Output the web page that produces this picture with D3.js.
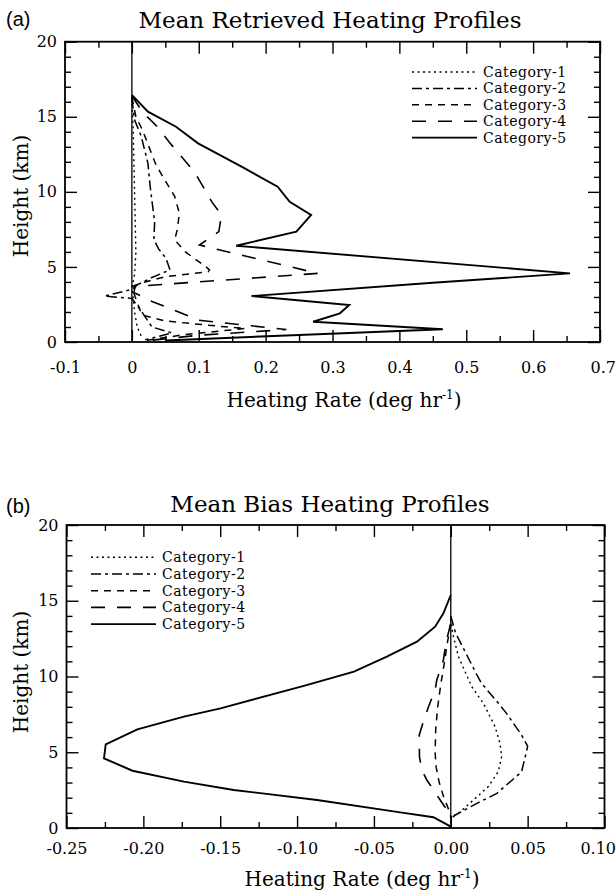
<!DOCTYPE html>
<html><head><meta charset="utf-8">
<script src="https://cdn.jsdelivr.net/npm/d3@7"></script>
<style>body{margin:0;background:#fff}</style>
</head><body>
<svg id="chart" width="616" height="896"></svg>
<script>
// ---------------- data ----------------
const categories = ["Category-1","Category-2","Category-3","Category-4","Category-5"];

// Panel (a): Mean Retrieved Heating Profiles
const retrXTicks = [-0.1,0,0.1,0.2,0.3,0.4,0.5,0.6,0.7];
const retrXTickLabels = ["-0.1","0","0.1","0.2","0.3","0.4","0.5","0.6","0.7"];
const retrXMinor = [-0.05,0.05,0.15,0.25,0.35,0.45,0.55,0.65];

const retrCat1H = [16.2,14.0,12.0,10.0,8.0,6.0,4.5,3.6,3.0,2.0,1.0,0.3];
const retrCat1  = [0.0,0.002,0.003,0.004,0.005,0.006,0.004,0.0,0.002,0.004,0.008,0.015];
const retrCat2H = [16.2,14.8,13.7,11.9,10.3,8.0,6.8,6.2,5.57,4.8,4.3,3.8,3.5,3.06,2.9,2.0,1.0,0.6,0.15];
const retrCat2  = [0.0,0.004,0.014,0.024,0.0275,0.034,0.033,0.04,0.051,0.057,0.03,0.008,0.0,-0.041,0.0,0.015,0.03,0.06,0.02];
const retrCat3H = [16.3,15.0,14.1,11.8,10.8,9.7,8.57,7.5,6.8,6.0,5.0,4.8,4.68,4.35,4.0,3.7,3.0,1.8,1.4,1.05,0.9,0.5,0.1];
const retrCat3  = [0.0,0.006,0.016,0.036,0.049,0.064,0.071,0.068,0.064,0.08,0.111,0.116,0.114,0.05,0.02,0.0,0.005,0.015,0.05,0.13,0.17,0.08,0.02];
const retrCat4H = [16.4,15.3,14.3,13.3,11.3,9.3,8.46,7.35,6.46,4.57,4.08,3.7,3.3,2.7,2.25,1.45,0.83,0.45,0.12];
const retrCat4  = [0.0,0.016,0.039,0.056,0.094,0.12,0.134,0.13,0.101,0.278,0.124,0.005,0.003,0.03,0.056,0.10,0.231,0.1,0.03];
const retrCat5H = [16.45,15.34,14.34,13.23,11.68,10.34,9.34,8.46,7.35,6.41,4.57,3.95,3.06,2.46,1.91,1.35,0.85,0.47,0.1];
const retrCat5  = [0.0,0.024,0.066,0.099,0.164,0.218,0.236,0.268,0.246,0.156,0.655,0.45,0.179,0.325,0.311,0.271,0.465,0.25,0.05];

// Panel (b): Mean Bias Heating Profiles
const biasXTicks = [-0.25,-0.20,-0.15,-0.10,-0.05,0.00,0.05,0.10];
const biasXTickLabels = ["-0.25","-0.20","-0.15","-0.10","-0.05","0.00","0.05","0.10"];
const biasXMinor = [-0.225,-0.175,-0.125,-0.075,-0.025,0.025,0.075];

const biasCat1H = [13.8,12.85,11.3,9.33,8.23,6.69,5.59,4.71,3.72,2.73,1.74,0.97,0.7];
const biasCat1  = [0.0,0.0012,0.005,0.0136,0.0212,0.0288,0.032,0.0331,0.0309,0.0244,0.0136,0.005,0.0];
const biasCat2H = [14.0,12.9,11.9,10.1,9.55,8.23,7.6,6.14,5.4,4.93,3.7,2.29,1.63,0.86,0.6];
const biasCat2  = [0.0,0.003,0.008,0.017,0.02,0.031,0.036,0.046,0.050,0.049,0.046,0.030,0.017,0.003,0.0];
const biasCat3H = [13.5,12.0,11.0,9.5,8.0,6.5,5.0,4.0,3.0,2.0,1.0,0.7];
const biasCat3  = [0.0,-0.0026,-0.004,-0.0065,-0.0085,-0.0098,-0.0102,-0.0095,-0.0075,-0.0045,-0.0005,0.0];
const biasCat4H = [13.5,12.3,11.09,9.77,9.11,8.0,7.13,6.14,5.15,4.71,3.83,3.17,1.85,0.97,0.7];
const biasCat4  = [0.0,-0.003,-0.0048,-0.0091,-0.0102,-0.0145,-0.0175,-0.0205,-0.0204,-0.0204,-0.0188,-0.0156,-0.0069,-0.001,0.0];
const biasCat5H = [15.38,14.17,13.29,12.3,11.31,10.32,9.4,7.9,7.35,6.51,5.52,4.6,3.78,3.06,2.51,1.85,1.03,0.71,0.09];
const biasCat5  = [0.0,-0.0048,-0.0102,-0.022,-0.0416,-0.063,-0.095,-0.1498,-0.1736,-0.2039,-0.2245,-0.2256,-0.2071,-0.1736,-0.1412,-0.087,-0.0329,-0.0113,0.0];

// shared height axis
const yTicks = [0,5,10,15,20];
const yTickLabels = ["0","5","10","15","20"];
const yMinor = [1,2,3,4,6,7,8,9,11,12,13,14,16,17,18,19];

// ---------------- styles ----------------
const SERIF = "'DejaVu Serif', serif";
const SANS = "'Liberation Sans', Arial, sans-serif";
const lineStyles = [
  {dash:"2,3.5", width:1.4},
  {dash:"10,4,3,4", width:1.5},
  {dash:"7,6", width:1.5},
  {dash:"14,12", width:1.6},
  {dash:null, width:1.9}
];

const svg = d3.select("#chart");

function zip(h, v){ return h.map((hh,i)=>({h:hh, v:v[i]})); }

function drawPanel(cfg){
  const x = d3.scaleLinear().domain(cfg.xDomain).range([cfg.left, cfg.right]);
  const y = d3.scaleLinear().domain([0,20]).range([cfg.bottom, cfg.top]);
  const g = svg.append("g");

  // zero line
  g.append("line").attr("x1", x(0)).attr("x2", x(0)).attr("y1", y(0)).attr("y2", y(20))
    .attr("stroke","#000").attr("stroke-width",1.3);

  // curves
  const line = d3.line().x(d=>x(d.v)).y(d=>y(d.h));
  cfg.series.forEach((s,i)=>{
    g.append("path").datum(zip(s.h, s.v)).attr("d", line)
      .attr("fill","none").attr("stroke","#000")
      .attr("stroke-width", lineStyles[i].width)
      .attr("stroke-dasharray", lineStyles[i].dash)
      .attr("stroke-linejoin","miter");
  });

  // axes
  function style(sel){
    sel.select(".domain").remove();
    sel.attr("font-family", SERIF);
    sel.selectAll("line").attr("stroke","#000").attr("stroke-width",1.4);
    sel.selectAll("text").attr("font-family", SERIF).attr("font-size", 16).attr("fill","#000");
  }
  const fmtX = d => cfg.xLabels[cfg.xTicks.indexOf(d)];
  const fmtY = d => yTickLabels[yTicks.indexOf(d)];

  const bx = g.append("g").attr("transform",`translate(0,${cfg.bottom})`)
    .call(d3.axisBottom(x).tickValues(cfg.xTicks).tickSize(-12).tickPadding(cfg.xPad).tickFormat(fmtX)).call(style);
  // keep the last label inside the page, as in the reference
  const lastTick = bx.selectAll(".tick").filter((d,i,n)=> i === n.length-1);
  const lastPos = x(cfg.xTicks[cfg.xTicks.length-1]);
  if (lastPos + 18 > 616) lastTick.select("text").attr("text-anchor","end").attr("x", 615.5 - lastPos);

  g.append("g").attr("transform",`translate(0,${cfg.bottom})`)
    .call(d3.axisBottom(x).tickValues(cfg.xMinor).tickSize(-6).tickFormat("")).call(style);
  g.append("g").attr("transform",`translate(0,${cfg.top})`)
    .call(d3.axisTop(x).tickValues(cfg.xTicks).tickSize(-12).tickFormat("")).call(style);
  g.append("g").attr("transform",`translate(0,${cfg.top})`)
    .call(d3.axisTop(x).tickValues(cfg.xMinor).tickSize(-6).tickFormat("")).call(style);
  g.append("g").attr("transform",`translate(${cfg.left},0)`)
    .call(d3.axisLeft(y).tickValues(yTicks).tickSize(-12).tickPadding(8).tickFormat(fmtY)).call(style);
  g.append("g").attr("transform",`translate(${cfg.left},0)`)
    .call(d3.axisLeft(y).tickValues(yMinor).tickSize(-6).tickFormat("")).call(style);
  g.append("g").attr("transform",`translate(${cfg.right},0)`)
    .call(d3.axisRight(y).tickValues(yTicks).tickSize(-12).tickFormat("")).call(style);
  g.append("g").attr("transform",`translate(${cfg.right},0)`)
    .call(d3.axisRight(y).tickValues(yMinor).tickSize(-6).tickFormat("")).call(style);

  // frame
  g.append("rect").attr("x",cfg.left).attr("y",cfg.top)
    .attr("width",cfg.right-cfg.left).attr("height",cfg.bottom-cfg.top)
    .attr("fill","none").attr("stroke","#000").attr("stroke-width",1.8);

  // titles
  g.append("text").attr("x",6).attr("y",cfg.tagY).text(cfg.tag)
    .attr("font-family",SANS).attr("font-size",20).attr("fill","#000");
  g.append("text").attr("x",330).attr("y",cfg.titleY).attr("text-anchor","middle")
    .attr("font-family",SERIF).attr("font-size",23).attr("fill","#000").text(cfg.title);

  // y label
  g.append("text").attr("transform",`translate(28,${cfg.yLabelY}) rotate(-90)`)
    .attr("text-anchor","middle").attr("font-family",SERIF).attr("font-size",20).attr("fill","#000")
    .text("Height (km)");

  // x label
  const xl = g.append("text").attr("x",cfg.xLabelX).attr("y",cfg.xLabelY).attr("text-anchor","middle")
    .attr("font-family",SERIF).attr("font-size",20).attr("fill","#000");
  xl.append("tspan").text("Heating Rate (deg hr");
  xl.append("tspan").attr("font-size",12).attr("dy",-8).text("-1");
  xl.append("tspan").attr("dy",8).text(")");

  // legend
  const lg = g.append("g");
  categories.forEach((c,i)=>{
    const ly = cfg.legY + i*cfg.legStep;
    lg.append("line").attr("x1",cfg.legX).attr("x2",cfg.legX+65).attr("y1",ly).attr("y2",ly)
      .attr("stroke","#000").attr("stroke-width",lineStyles[i].width)
      .attr("stroke-dasharray",lineStyles[i].dash);
    lg.append("text").attr("x",cfg.legX+71).attr("y",ly+5)
      .attr("font-family",SERIF).attr("font-size",14).attr("letter-spacing",0.5)
      .attr("fill","#000").text(c);
  });
}

drawPanel({
  xDomain:[-0.1,0.7], left:65, right:600, top:41.7, bottom:342,
  xTicks:retrXTicks, xLabels:retrXTickLabels, xMinor:retrXMinor, xPad:20,
  series:[{h:retrCat1H,v:retrCat1},{h:retrCat2H,v:retrCat2},{h:retrCat3H,v:retrCat3},{h:retrCat4H,v:retrCat4},{h:retrCat5H,v:retrCat5}],
  tag:"(a)", tagY:26, title:"Mean Retrieved Heating Profiles", titleY:28,
  yLabelY:196, xLabelX:344, xLabelY:407, legX:412, legY:72, legStep:16.4
});

drawPanel({
  xDomain:[-0.25,0.1], left:66.5, right:604.5, top:525, bottom:828,
  xTicks:biasXTicks, xLabels:biasXTickLabels, xMinor:biasXMinor, xPad:15,
  series:[{h:biasCat1H,v:biasCat1},{h:biasCat2H,v:biasCat2},{h:biasCat3H,v:biasCat3},{h:biasCat4H,v:biasCat4},{h:biasCat5H,v:biasCat5}],
  tag:"(b)", tagY:513, title:"Mean Bias Heating Profiles", titleY:512,
  yLabelY:672, xLabelX:362, xLabelY:886, legX:91, legY:557.3, legStep:16.7
});
</script>
</body></html>
